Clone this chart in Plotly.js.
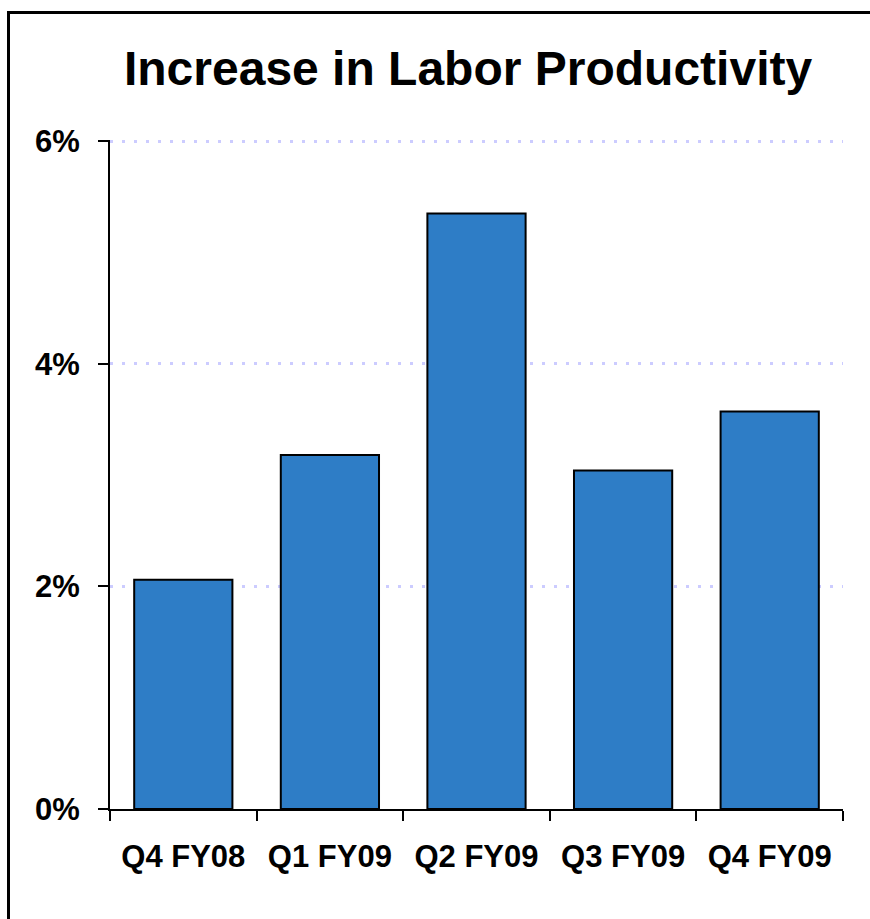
<!DOCTYPE html>
<html>
<head>
<meta charset="utf-8">
<script src="https://cdn.plot.ly/plotly-3.0.1.min.js"></script>
<style>
  html, body { margin: 0; padding: 0; background: #fff; }
  #wrap { position: relative; width: 870px; height: 919px; overflow: hidden; }
  #chart { position: absolute; left: 0; top: 0; width: 870px; height: 919px; }
  #frame { position: absolute; left: 7px; top: 11px; width: 900px; height: 950px;
           border-top: 3px solid #000; border-left: 3px solid #000; pointer-events: none; }
</style>
</head>
<body>
<div id="wrap">
  <div id="chart"></div>
  <div id="frame"></div>
</div>
<script>
const categories = ["Q4 FY08", "Q1 FY09", "Q2 FY09", "Q3 FY09", "Q4 FY09"];
const productivityIncrease = [2.06, 3.18, 5.35, 3.04, 3.57];
const yTickValues = [0, 2, 4, 6];
const yTickLabels = ["0%", "2%", "4%", "6%"];
const chartTitle = "Increase in Labor Productivity";

const fontFamily = "Arial, 'Liberation Sans', sans-serif";

const trace = {
  type: "bar",
  x: categories,
  y: productivityIncrease,
  marker: { color: "#2E7DC6", line: { color: "#000000", width: 2 } },
  hoverinfo: "skip"
};

const layout = {
  width: 870,
  height: 919,
  margin: { l: 110, r: 27, t: 140, b: 110 },
  paper_bgcolor: "rgba(0,0,0,0)",
  plot_bgcolor: "#ffffff",
  showlegend: false,
  bargap: 0.33,
  title: {
    text: "<b>" + chartTitle + "</b>",
    font: { family: fontFamily, size: 48, color: "#000" },
    xref: "container", x: 0.538, xanchor: "center",
    yref: "container", y: 1 - 68 / 919, yanchor: "middle"
  },
  xaxis: {
    type: "category",
    showline: true, linecolor: "#000", linewidth: 2,
    ticks: "outside", tickson: "boundaries", ticklen: 10, tickwidth: 2, tickcolor: "#000",
    tickfont: { family: fontFamily, size: 31, color: "#000" },
    tickvals: categories,
    ticktext: categories.map(c => "<b>" + c + "</b>"),
    ticklabelstandoff: 19,
    showgrid: false, zeroline: false, fixedrange: true
  },
  yaxis: {
    range: [0, 6.01],
    tickvals: yTickValues,
    ticktext: yTickLabels.map(t => "<b>" + t + "</b>"),
    showline: true, linecolor: "#000", linewidth: 2,
    ticks: "outside", ticklen: 10, tickwidth: 2, tickcolor: "#000",
    tickfont: { family: fontFamily, size: 31, color: "#000" },
    ticklabelstandoff: 12,
    showgrid: true, gridcolor: "#ccccff", gridwidth: 3, griddash: "3px,9px",
    zeroline: false, fixedrange: true
  }
};

Plotly.newPlot("chart", [trace], layout, { displayModeBar: false, staticPlot: true });
</script>
</body>
</html>
